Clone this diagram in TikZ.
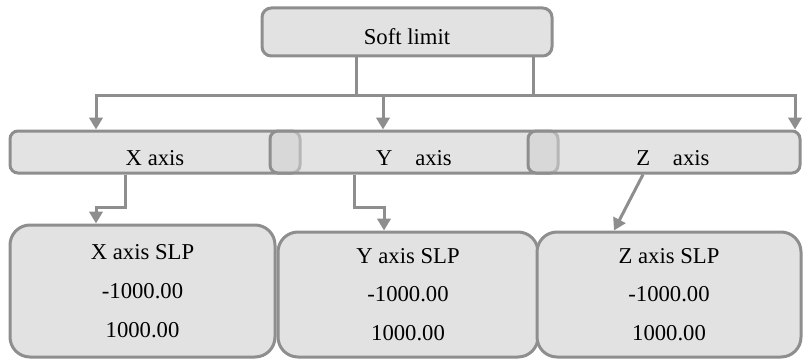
\documentclass[tikz,border=0pt]{standalone}
\usepackage{fontspec}
\setmainfont{Liberation Serif}
\usetikzlibrary{arrows.meta,positioning}
\definecolor{lgrey}{RGB}{226,226,226}
\definecolor{edgegrey}{RGB}{142,142,142}
\tikzstyle{block} = [rectangle, draw=edgegrey, line width=2.25pt, fill=lgrey,
  rounded corners=7pt, text centered, inner sep=0pt, font=\fontsize{17}{29}\selectfont]
\tikzstyle{bar} = [block, fill=black!18, fill opacity=0.6, text opacity=1,
  rounded corners=6pt, minimum height=31.5pt, text height=19.5pt, text depth=0pt]
\tikzstyle{slp} = [block, rounded corners=15pt, align=center]
\tikzstyle{wire} = [draw, line width=2.25pt, color=edgegrey]
\tikzstyle{line} = [wire, -{Triangle[length=9pt,width=10pt]}]
\tikzstyle{fork} = [wire, {Triangle[length=9pt,width=10pt]}-{Triangle[length=9pt,width=10pt]}]

\begin{document}
\begin{tikzpicture}[x=0.75pt, y=-0.75pt]

  \useasboundingbox (0,0) rectangle (809,360);

  %%%%%%%%%%%%%%%%%%%%%%%%%%%%%%%%%%%%%%%%%%%%%%%%%%%%%%%%%%%%%%
  %                    SOFT LIMIT                              %
  %%%%%%%%%%%%%%%%%%%%%%%%%%%%%%%%%%%%%%%%%%%%%%%%%%%%%%%%%%%%%%

  \node [block, minimum width=217.5pt, minimum height=36pt,
    text height=19.5pt, text depth=0pt] (soft) at (407,32) {Soft limit};

  %%%%%%%%%%%%%%%%%%%%%%%%%%%%%%%%%%%%%%%%%%%%%%%%%%%%%%%%%%%%%%
  %                    AXES                                    %
  %%%%%%%%%%%%%%%%%%%%%%%%%%%%%%%%%%%%%%%%%%%%%%%%%%%%%%%%%%%%%%

  \node [bar, minimum width=217.5pt] (xaxis) at (155,152) {X axis};
  \node [bar, minimum width=216pt] (yaxis) at (414,152) {Y\hspace{1em}axis};
  \node [bar, minimum width=204pt] (zaxis) at (664,152) {\hspace{13.5pt}Z\hspace{1em}axis};

  %%%%%%%%%%%%%%%%%%%%%%%%%%%%%%%%%%%%%%%%%%%%%%%%%%%%%%%%%%%%%%
  %                    SLP VALUES                              %
  %%%%%%%%%%%%%%%%%%%%%%%%%%%%%%%%%%%%%%%%%%%%%%%%%%%%%%%%%%%%%%

  \node [slp, minimum width=198.75pt, minimum height=99pt] (xslp) at (142.5,291)
    {X axis SLP\\-1000.00\\1000.00};
  \node [slp, minimum width=195pt, minimum height=93.75pt] (yslp) at (408,294.5)
    {Y axis SLP\\-1000.00\\1000.00};
  \node [slp, minimum width=198pt, minimum height=93.75pt] (zslp) at (669,294.5)
    {Z axis SLP\\-1000.00\\1000.00};

  % bus under the soft limit box
  \coordinate (tap-l) at (356,95);
  \coordinate (tap-r) at (533,95);
  \coordinate (bus-w) at (96,95);
  \coordinate (bus-m) at (383,95);
  \coordinate (bus-e) at (795,95);

  \draw[wire] (tap-l |- soft.south) -- (tap-l);
  \draw[wire] (tap-r |- soft.south) -- (tap-r);
  \draw[fork] (bus-w |- xaxis.north) -- (bus-w) -- (bus-e) -- (bus-e |- zaxis.north);
  \draw[line] (bus-m) -- (bus-m |- yaxis.north);

  % axis -> SLP
  \coordinate (x-knee) at (125,207);
  \coordinate (x-bend) at (96,207);
  \coordinate (y-knee) at (354,207);
  \coordinate (y-bend) at (384,207);
  \coordinate (z-tail) at (643,0);
  \coordinate (z-head) at (614,0);

  \draw[line] (x-knee |- xaxis.south) -- (x-knee) -- (x-bend) -- (x-bend |- xslp.north);
  \draw[line] (y-knee |- yaxis.south) -- (y-knee) -- (y-bend) -- (y-bend |- yslp.north);
  \draw[line] (z-tail |- zaxis.south) -- (z-head |- zslp.north);

\end{tikzpicture}
\end{document}
